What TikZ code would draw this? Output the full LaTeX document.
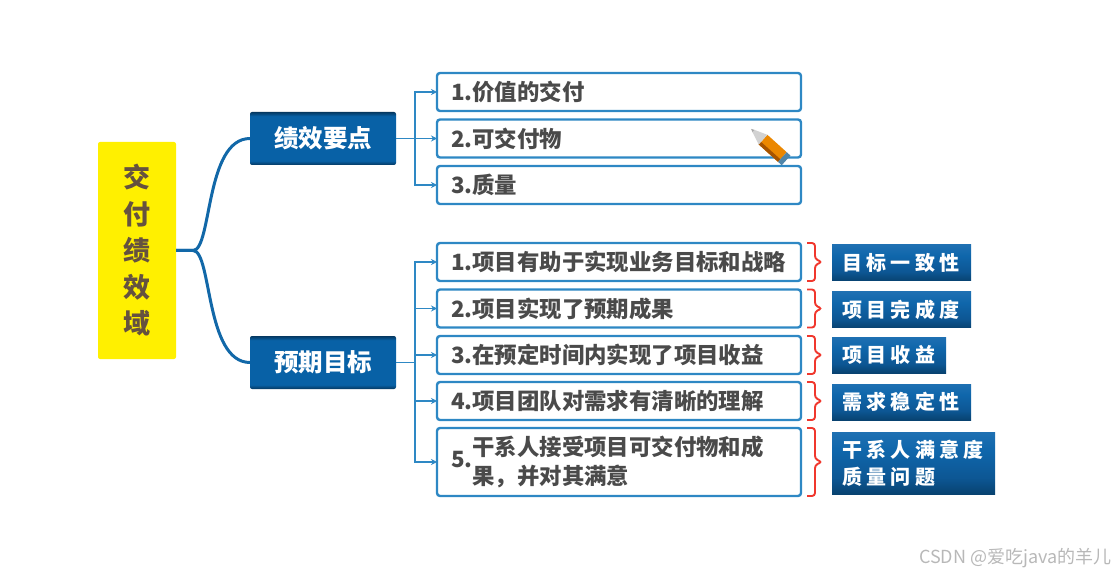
\documentclass[tikz,border=0pt]{standalone}
\usepackage{fontspec}
\setmainfont{Noto Sans CJK SC}
\newfontfamily\tagfont[LetterSpace=22]{Noto Sans CJK SC}
\usepackage{xcolor}
\usetikzlibrary{positioning,arrows.meta,calc}
\definecolor{linkblue}{HTML}{1268A8}
\definecolor{edgeblue}{HTML}{2E88C4}
\definecolor{textgrey}{HTML}{4A4A4A}
\definecolor{bracered}{HTML}{F0372D}
\definecolor{rootyellow}{HTML}{FFF000}
\pgfdeclareverticalshading{headshade}{100bp}{
    rgb(0bp)=(.02,.22,.38); rgb(25bp)=(.02,.22,.38); rgb(29bp)=(.03,.38,.65);
    rgb(71bp)=(.03,.38,.65); rgb(75bp)=(.02,.22,.38); rgb(100bp)=(.02,.22,.38)}
\pgfdeclareverticalshading{tagshade}{100bp}{
    rgb(0bp)=(.03,.26,.44); rgb(25bp)=(.03,.26,.44); rgb(38bp)=(.05,.34,.58);
    rgb(60bp)=(.06,.40,.67); rgb(75bp)=(.12,.44,.70); rgb(100bp)=(.12,.44,.70)}
% red bracket beside an item box
\newcommand{\redbrace}[1]{\draw[rbrace] ($(#1.north east)+(6,0)$) -- ++(8,0) -- ($(#1.east)+(14,-3)$) -- ($(#1.east)+(21,0)$) -- ($(#1.east)+(14,3)$) -- ($(#1.south east)+(14,0)$) -- ($(#1.south east)+(6,0)$);}

\begin{document}
\begin{tikzpicture}[
    x=1pt, y=-1pt,
    rootblock/.style={fill=rootyellow, rounded corners=2pt, minimum width=78pt, minimum height=217pt, inner sep=0pt, outer sep=0pt, align=center, text=textgrey!85!orange, font=\fontsize{27}{36.5}\selectfont\bfseries},
    headblock/.style={shading=headshade, rounded corners=2pt, minimum width=146pt, minimum height=53pt, inner sep=0pt, outer sep=0pt, text=white, font=\fontsize{24.5}{28}\selectfont\bfseries},
    itemblock/.style={draw=edgeblue, line width=2.4pt, fill=white, rounded corners=3pt, minimum width=364pt, minimum height=38pt, text width=336pt, inner sep=0pt, outer sep=0pt, align=left, text=textgrey, font=\fontsize{22.4}{29}\selectfont\bfseries},
    tagblock/.style={shading=tagshade, minimum height=36pt, inner sep=0pt, outer sep=0pt, anchor=west, align=left, text=white, font=\fontsize{20}{27}\tagfont\bfseries},
    curv/.style={draw=linkblue, line width=3pt},
    arr/.style={-{Stealth[length=6pt,width=6pt]}, draw=edgeblue, line width=1.1pt},
    rbrace/.style={draw=bracered, line width=1.9pt, rounded corners=3pt}
]
    \useasboundingbox (0,0) rectangle (1120,580);

    % Root
    \node[rootblock] (jiaofu) at (137,250.5) {交\\付\\绩\\效\\域};
    \coordinate (branch) at (193,250.5);

    % Heads
    \node[headblock] (yaodian) at (323,138.5) {绩效要点};
    \node[headblock] (mubiao) at (323,362.5) {预期目标};

    % Upper items
    \node[itemblock] (yd1) at (619,92) {1.价值的交付};
    \node[itemblock, below=8.5pt of yd1] (yd2) {2.可交付物};
    \node[itemblock, below=8.5pt of yd2] (yd3) {3.质量};

    % Lower items
    \node[itemblock] (mb1) at (619,262) {1.项目有助于实现业务目标和战略};
    \node[itemblock, below=8.5pt of mb1] (mb2) {2.项目实现了预期成果};
    \node[itemblock, below=8.5pt of mb2] (mb3) {3.在预定时间内实现了项目收益};
    \node[itemblock, below=8pt of mb3] (mb4) {4.项目团队对需求有清晰的理解};
    \node[itemblock, below=8pt of mb4, minimum height=68pt] (mb5) {5.\parbox[c]{300pt}{干系人接受项目可交付物和成\\果，并对其满意}};

    % Tags
    \node[tagblock, minimum width=139pt, text width=119pt] (tag1) at (832,263) {目标一致性};
    \node[tagblock, minimum width=139pt, text width=119pt] (tag2) at (832,310) {项目完成度};
    \node[tagblock, minimum width=114pt, text width=94pt] (tag3) at (832,355) {项目收益};
    \node[tagblock, minimum width=139pt, text width=119pt] (tag4) at (832,402) {需求稳定性};
    \node[tagblock, minimum width=163pt, text width=143pt, minimum height=62pt] (tag5) at (832,463) {干系人满意度\\质量问题};

    % Root links
    \draw[curv] (jiaofu.east) -- (branch) .. controls +(19,0) and +(-45,0) .. (yaodian.west);
    \draw[curv] (jiaofu.east) -- (branch) .. controls +(19,0) and +(-45,0) .. (mubiao.west);

    % Item links
    \draw[arr] (yaodian.east) -- ++(19,0) |- (yd1.west);
    \draw[arr] (yaodian.east) -- (yd2.west);
    \draw[arr] (yaodian.east) -- ++(19,0) |- (yd3.west);
    \draw[arr] (mubiao.east) -- ++(19,0) |- (mb1.west);
    \draw[arr] (mubiao.east) -- ++(19,0) |- (mb2.west);
    \draw[arr] (mubiao.east) -- ++(19,0) |- (mb3.west);
    \draw[arr] (mubiao.east) -- ++(19,0) |- (mb4.west);
    \draw[arr] (mubiao.east) -- ++(19,0) |- (mb5.west);

    % Braces
    \redbrace{mb1}
    \redbrace{mb2}
    \redbrace{mb3}
    \redbrace{mb4}
    \redbrace{mb5}

    % Pencil
    \begin{scope}[shift={(769,145)}, rotate=-42]
        \fill[orange!85!yellow!92!black] (-8,-6.5) rectangle (18,6.5);
        \fill[orange!65!black] (-8,3) rectangle (18,6.5);
        \fill[gray!35] (-8,-6.5) -- (-21,-1.5) -- (-21,1.5) -- (-8,6.5) -- cycle;
        \fill[gray!70] (-21,-1.5) -- (-24,0) -- (-21,1.5) -- cycle;
        \fill[edgeblue!60!gray] (18,-6.5) rectangle (23,6.5);
    \end{scope}

    % Watermark
    \node[anchor=east, text=black!28, font=\fontsize{18}{20}\selectfont] (mark) at (1115,558) {CSDN @爱吃java的羊儿};
\end{tikzpicture}
\end{document}
